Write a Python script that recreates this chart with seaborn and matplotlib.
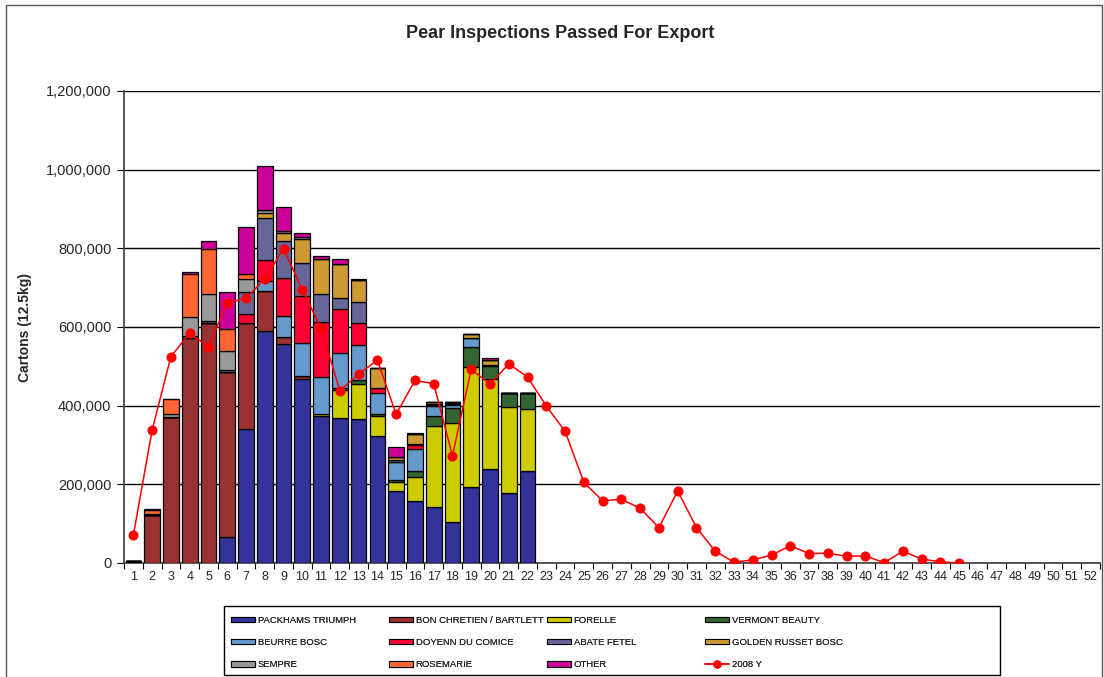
import numpy as np
import pandas as pd
import matplotlib
matplotlib.use("Agg")
import matplotlib.pyplot as plt
import seaborn as sns
from matplotlib.patches import Patch, Rectangle
from matplotlib.lines import Line2D
from matplotlib.ticker import FuncFormatter, MultipleLocator

weeks = list(range(1, 53))
bar_weeks = list(range(1, 23))

packhams     = [2000, 0, 0, 0, 0, 67000, 340000, 590000, 556000, 469000, 373000, 368000, 365000, 323000, 184000, 158000, 143000, 103000, 194000, 238000, 177000, 235000]
bon_chretien = [3000, 121000, 372000, 573000, 609000, 419000, 269000, 102000, 19000, 6000, 0, 0, 0, 0, 0, 0, 0, 0, 0, 0, 0, 0]
forelle      = [0, 0, 0, 0, 0, 0, 0, 0, 0, 0, 7000, 72000, 89000, 51000, 23000, 61000, 206000, 254000, 305000, 231000, 220000, 156000]
vermont      = [0, 0, 0, 0, 0, 0, 0, 0, 0, 0, 0, 4000, 11000, 4000, 3000, 16000, 25000, 36000, 49000, 32000, 34000, 42000]
beurre_bosc  = [0, 0, 0, 5000, 0, 0, 0, 25000, 53000, 85000, 92000, 89000, 89000, 55000, 47000, 54000, 25000, 8000, 25000, 3000, 0, 0]
doyenne      = [0, 0, 0, 0, 0, 0, 25000, 54000, 97000, 119000, 140000, 112000, 55000, 12000, 0, 11000, 3000, 2000, 0, 0, 0, 0]
abate_fetel  = [0, 0, 0, 0, 7000, 4000, 56000, 106000, 93000, 84000, 73000, 28000, 55000, 0, 6000, 3000, 3000, 3000, 0, 0, 0, 0]
golden_bosc  = [0, 0, 0, 0, 0, 0, 0, 14000, 21000, 62000, 87000, 86000, 55000, 50000, 6000, 25000, 4000, 3000, 9000, 12000, 0, 0]
sempre       = [0, 3000, 8000, 48000, 67000, 50000, 31000, 6000, 4000, 3000, 0, 0, 0, 0, 0, 0, 0, 0, 0, 0, 0, 0]
rosemarie    = [0, 10000, 38000, 110000, 115000, 55000, 15000, 0, 0, 0, 0, 0, 0, 0, 0, 0, 0, 0, 0, 0, 0, 0]
other        = [0, 3000, 0, 3000, 21000, 93000, 117000, 112000, 61000, 12000, 8000, 13000, 4000, 0, 25000, 3000, 0, 0, 0, 4000, 0, 0]

line_weeks = list(range(1, 46))
y2008 = [71000, 338000, 525000, 584000, 550000, 661000, 673000, 722000, 799000, 695000,
         597000, 438000, 480000, 516000, 378000, 464000, 456000, 273000, 492000, 455000,
         506000, 473000, 399000, 335000, 205000, 158000, 162000, 139000, 90000, 183000,
         90000, 30000, 2000, 8000, 20000, 44000, 24000, 25000, 17000, 18000,
         1000, 30000, 10000, 3000, 0]

series_names = ["PACKHAMS TRIUMPH", "BON CHRETIEN / BARTLETT", "FORELLE", "VERMONT BEAUTY",
                "BEURRE BOSC", "DOYENN DU COMICE", "ABATE FETEL", "GOLDEN RUSSET BOSC",
                "SEMPRE", "ROSEMARIE", "OTHER"]
series_vals = [packhams, bon_chretien, forelle, vermont, beurre_bosc, doyenne, abate_fetel,
               golden_bosc, sempre, rosemarie, other]
colors = ["#333399", "#993333", "#CCCC00", "#336633", "#6699CC", "#FF0033", "#666699",
          "#CC9933", "#999999", "#FF6633", "#CC0099"]
line_label = "2008 Y"
title = "Pear Inspections Passed For Export"
ylabel = "Cartons (12.5kg)"

sns.set_theme(style="white")
plt.rcParams['font.family'] = ['Liberation Sans', 'DejaVu Sans']
legend_font = {"family": "Liberation Sans", "size": 6.8}

W, H = 1104, 677
fig = plt.figure(figsize=(W/100, H/100), dpi=100)
ax = fig.add_axes([124/W, 1-563/H, 976/W, 472/H])

df = pd.DataFrame({name: vals for name, vals in zip(series_names, series_vals)}, index=bar_weeks)
bottom = np.zeros(len(bar_weeks))
for name, col in zip(series_names, colors):
    v = df[name].values
    ax.bar(df.index, v, bottom=bottom, width=0.84, color=col, edgecolor="black",
           linewidth=0.9, zorder=3)
    bottom += v

line_df = pd.DataFrame({"week": line_weeks, "val": y2008})
sns.lineplot(data=line_df, x="week", y="val", ax=ax, color="#FF0000", linewidth=1.1,
             marker="o", markersize=6.5, markeredgecolor="#FF0000", zorder=5, legend=False)

ax.set_xlim(0.5, 52.5)
ax.set_ylim(0, 1200000)
ax.yaxis.set_major_locator(MultipleLocator(200000))
ax.yaxis.set_major_formatter(FuncFormatter(lambda v, p: f"{int(v):,}"))
ax.set_xticks(weeks)
ax.set_xticklabels([str(w) for w in weeks], fontsize=9)
ax.set_xticks(np.arange(0.5, 53, 1), minor=True)
ax.tick_params(axis="x", which="major", length=0, pad=6)
ax.tick_params(axis="x", which="minor", length=4, width=0.8, color="black", bottom=True)
ax.tick_params(axis="y", which="major", length=5, width=0.8, color="black", left=True,
               labelsize=10.5, pad=4)
ax.grid(axis="y", color="black", linewidth=1.0, zorder=0)
ax.grid(axis="x", visible=False)
ax.set_axisbelow(True)
for s in ["top", "right"]:
    ax.spines[s].set_visible(False)
ax.spines["left"].set_color("#444444")
ax.spines["bottom"].set_color("#444444")
ax.set_xlabel("")
ax.set_ylabel(ylabel, fontsize=10, fontweight="bold", labelpad=10)
fig.text(560/W, 1-33/H, title, ha="center", va="center", fontsize=13, fontweight="bold")

patches = [Patch(facecolor=c, edgecolor="black", linewidth=0.8, label=n)
           for n, c in zip(series_names, colors)]
line_h = Line2D([0], [0], color="#FF0000", marker="o", markersize=5, linewidth=1.1, label=line_label)
handles = patches + [line_h]
columns = [[0, 4, 8], [1, 5, 9], [2, 6, 10], [3, 7, 11]]
col_x = [231, 389, 547, 705]
hl_px = 24
fs_px = legend_font["size"] * 100 / 72
for cx, idxs in zip(col_x, columns):
    hs = [handles[i] for i in idxs]
    lg = fig.legend(handles=hs, labels=[h.get_label() for h in hs], ncol=1,
                    loc="upper left", bbox_to_anchor=(cx/W, 1-616/H),
                    prop=legend_font, frameon=False, handlelength=hl_px/fs_px, handleheight=0.45,
                    handletextpad=2.5/fs_px, borderaxespad=0,
                    labelspacing=13.2/fs_px, borderpad=0)
    fig.add_artist(lg)

fig.patches.append(Rectangle((224/W, 1-675/H), 776/W, 69/H, transform=fig.transFigure,
                             fill=False, edgecolor="black", linewidth=1.0))
fig.patches.append(Rectangle((6/W, -0.01), 1096/W, 1.01 - 5/H, transform=fig.transFigure,
                             fill=False, edgecolor="#555555", linewidth=1.0))

fig.savefig("out.png", dpi=100, facecolor="white")
